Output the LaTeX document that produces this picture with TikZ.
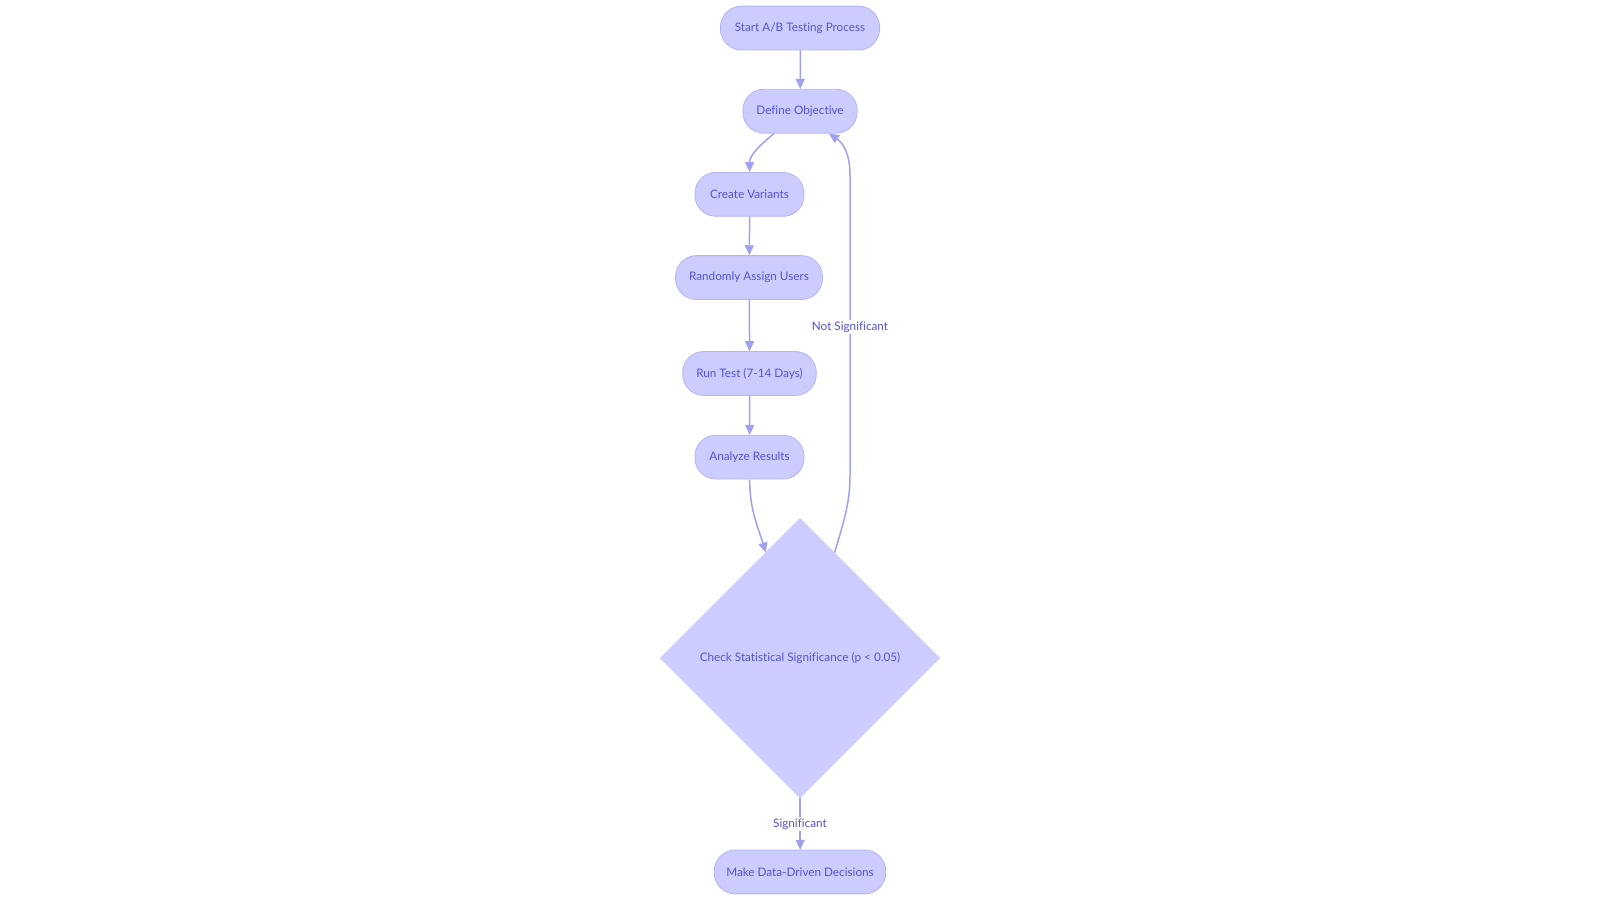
\documentclass[tikz,border=0pt]{standalone}
\usepackage{fontspec}
\setmainfont{Lato}[Ligatures=NoCommon]
\usetikzlibrary{shapes.geometric,arrows.meta,calc}
\definecolor{nodefill}{RGB}{204,204,255}
\definecolor{nodedraw}{RGB}{180,180,245}
\definecolor{edgecol}{RGB}{160,160,240}
\definecolor{txtcol}{RGB}{84,84,214}
\begin{document}
\begin{tikzpicture}[x=1pt,y=-1pt,scale=1.0204,every node/.style={transform shape},
  pill/.style={draw=nodedraw,fill=nodefill,rounded corners=21pt,minimum height=43pt,inner sep=0pt,text=txtcol,font=\fontsize{11.5}{13}\selectfont,line width=0.8pt},
  decision/.style={diamond,draw=nodefill,fill=nodefill,minimum width=274pt,minimum height=274pt,inner sep=0pt,text=txtcol,font=\fontsize{11.5}{13}\selectfont},
  conn/.style={draw=edgecol,line width=1.5pt,-{Triangle[length=10pt,width=9pt]}},
  lab/.style={fill=white,text=txtcol,font=\fontsize{11.5}{13}\selectfont,inner sep=1.5pt}]
\useasboundingbox (0,0) rectangle (1568,885);
\node[pill,minimum width=156pt] (start) at (784,27.5) {Start A/B Testing Process};
\node[pill,minimum width=112pt] (def) at (784,109) {Define Objective};
\node[pill,minimum width=107pt] (cre) at (734.5,190.5) {Create Variants};
\node[pill,minimum width=144pt] (ran) at (734,272) {Randomly Assign Users};
\node[pill,minimum width=131pt] (run) at (734.5,366) {Run Test (7-14 Days)};
\node[pill,minimum width=107pt] (ana) at (734.5,448) {Analyze Results};
\node[decision] (chk) at (784,645) {Check Statistical Significance (p < 0.05)};
\node[pill,minimum width=168pt] (mdd) at (784,854.5) {Make Data-Driven Decisions};
\coordinate (defbl) at ($(def.south)+(-26,0)$);
\coordinate (defbr) at ($(def.south)+(28,0)$);
\draw[conn] (start) -- (def);
\draw[conn] (defbl) .. controls (745,142) and (734.5,152) .. (cre.north);
\draw[conn] (cre) -- (ran);
\draw[conn] (ran) -- (run);
\draw[conn] (run) -- (ana);
\draw[conn] (ana.south) .. controls (734.5,500) and (744,520) .. (chk.108);
\draw[conn] (chk.72) .. controls (829,505) and (833,490) .. (833,465) -- (833,172) .. controls (833,150) and (826,140) .. (defbr);
\node[lab] (ns) at (833,320.5) {Not Significant};
\draw[conn] (chk.south) -- (mdd.north);
\node[lab] (sg) at (784,807.5) {Significant};
\end{tikzpicture}
\end{document}
